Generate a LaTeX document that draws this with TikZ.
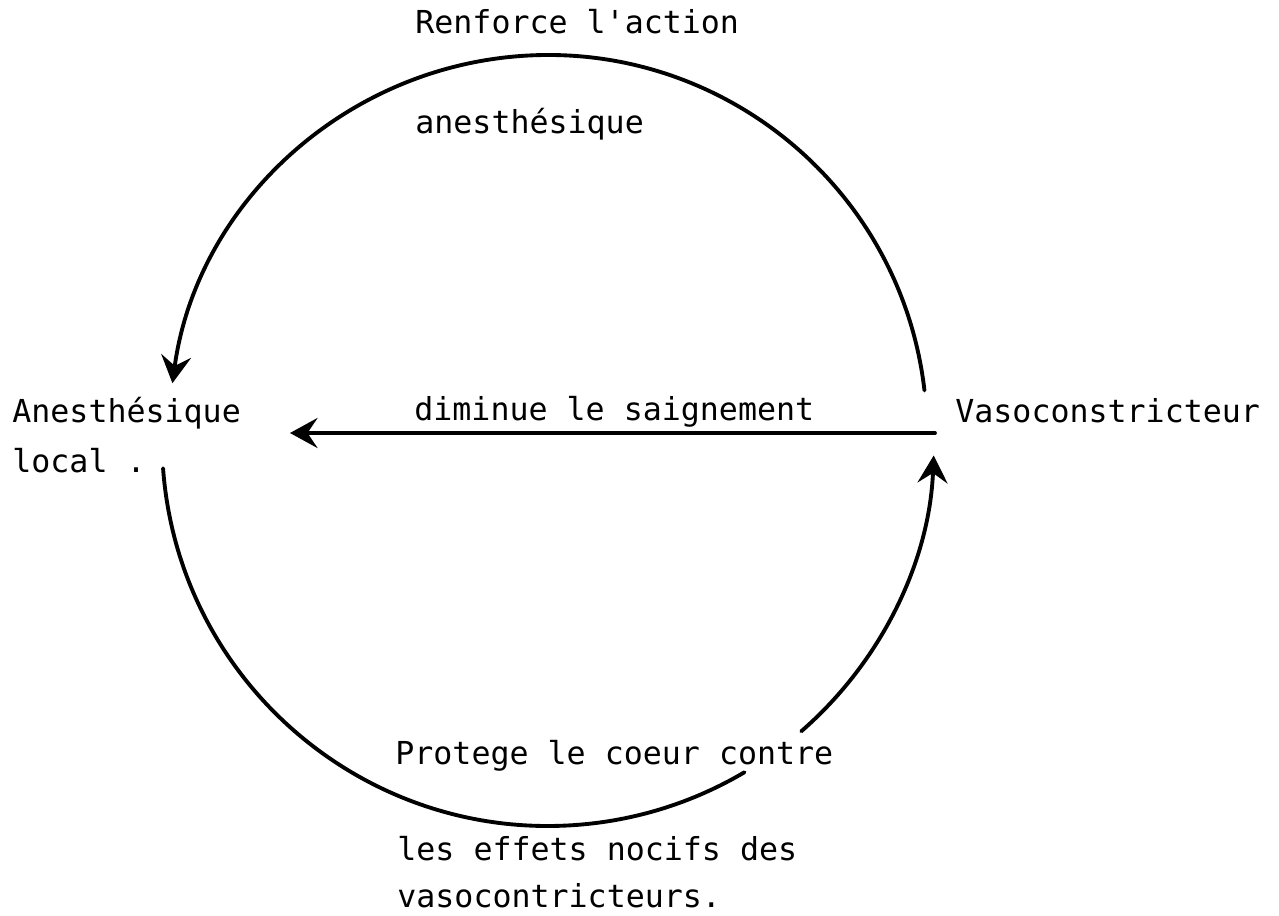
\documentclass[tikz,border=0pt]{standalone}
\usepackage{fontspec}
\newfontfamily\typo{DejaVu Sans Mono}
\usetikzlibrary{arrows.meta}

\begin{document}
\begin{tikzpicture}[x=0.02cm,y=-0.02cm,
		trait/.style={line width=2.2pt,line cap=round},
		fleche/.style={trait,-{Stealth[length=0.55cm,width=0.6cm,inset=0.2cm]}},
		texte/.style={anchor=base west,inner sep=0pt,font=\typo\fontsize{18}{22}\selectfont}]
			\useasboundingbox (0,0) rectangle (1279,916);
			\coordinate (O1) at (548,434);
			\coordinate (O2) at (548,440);
			\coordinate (hD) at (935,433);
			\coordinate (hA) at (290,433);
			\node[texte] (renforce) at (415,33) {Renforce l'action};
			\node[texte] (anesthq) at (415,133) {anesthésique};
			\node[texte] (anesth) at (12,422) {Anesthésique};
			\node[texte] (local) at (12,472) {local .};
			\node[texte] (saign) at (414,420) {diminue le saignement};
			\node[texte] (vaso) at (955,422) {Vasoconstricteur};
			\node[texte] (protege) at (395,764) {Protege le coeur contre};
			\node[texte] (effets) at (397,860) {les effets nocifs des};
			\node[texte] (vasos) at (397,907) {vasocontricteurs.};
			\draw[fleche,shift={(O1)}] (-6.6:379) arc (-6.6:-172.3:379);
			\draw[trait,shift={(O2)}] (175.8:386) arc (175.8:59.4:386);
			\draw[fleche,shift={(O2)}] (49:386) arc (49:2.3:386);
			\draw[fleche] (hD) -- (hA);
		\end{tikzpicture}
\end{document}
